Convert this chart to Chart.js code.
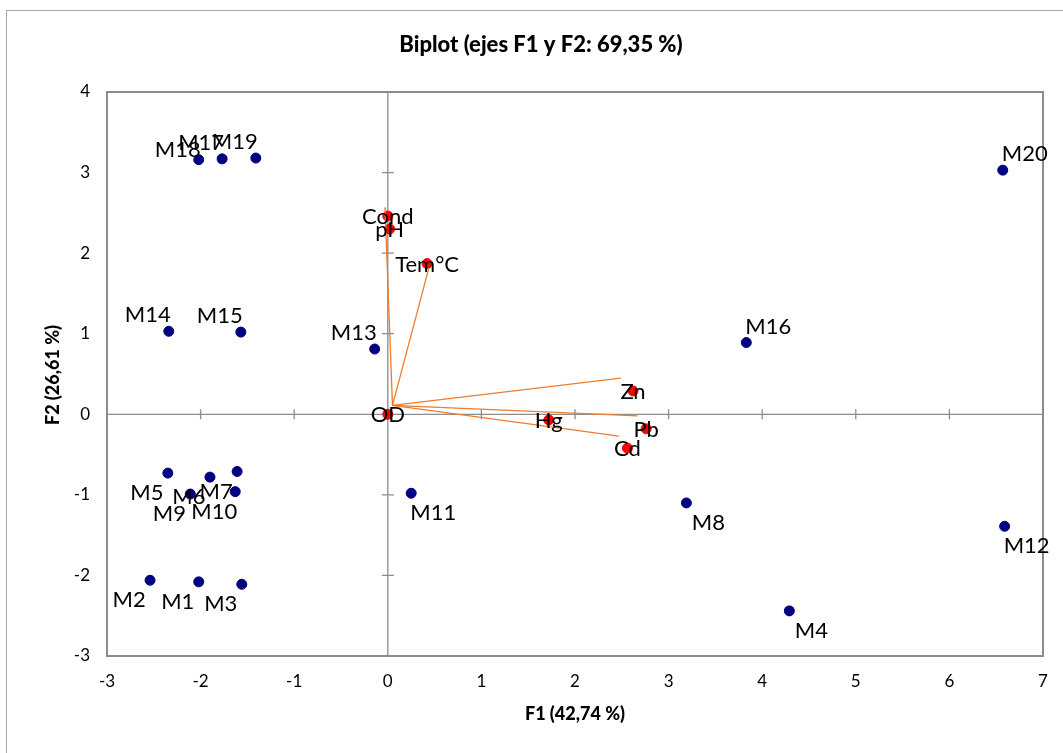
<!DOCTYPE html>
<html>
<head>
<meta charset="utf-8">
<script src="https://cdn.jsdelivr.net/npm/chart.js@4/dist/chart.umd.min.js"></script>
<style>
  html, body { margin: 0; padding: 0; background: #fff; }
  #wrap { width: 1063px; height: 753px; }
</style>
</head>
<body>
<div id="wrap"><canvas id="grafico" width="1063" height="753"></canvas></div>
<script>
// Observaciones (coordenadas F1 / F2)
const obsLabels = ["M1","M2","M3","M4","M5","M6","M7","M8","M9","M10",
                   "M11","M12","M13","M14","M15","M16","M17","M18","M19","M20"];
const obsF1 = [-2.02,-2.54,-1.56, 4.29,-2.35,-1.90,-1.61, 3.19,-2.11,-1.63,
                0.25, 6.59,-0.14,-2.34,-1.57, 3.83,-1.77,-2.02,-1.41, 6.57];
const obsF2 = [-2.08,-2.06,-2.11,-2.44,-0.73,-0.78,-0.71,-1.10,-0.99,-0.96,
               -0.98,-1.39, 0.81, 1.03, 1.02, 0.89, 3.17, 3.16, 3.18, 3.03];

// Variables
const varLabels = ["Cond","pH","Tem°C","OD","Zn","Hg","Pb","Cd"];
const varF1 = [0.00, 0.02, 0.42, 0.00, 2.62, 1.72, 2.76, 2.56];
const varF2 = [2.46, 2.30, 1.87, 0.00, 0.29,-0.07,-0.18,-0.42];

// Vectores (linea desde el origen desplazado)
const vecStart = [0.05, 0.11];
const vecEndF1 = [-0.03, 0.44, 2.49, 2.67, 2.47];
const vecEndF2 = [ 2.57, 1.82, 0.45,-0.02,-0.27];

// Ejes
const xTicks = [-3,-2,-1,0,1,2,3,4,5,6,7];
const yTicks = [-3,-2,-1,0,1,2,3,4];
const titulo = "Biplot (ejes F1 y F2: 69,35 %)";
const tituloX = "F1 (42,74 %)";
const tituloY = "F2 (26,61 %)";

const FUENTE = "Lato, 'Open Sans', sans-serif";
const GRIS = "#8c8c8c";

const datasets = [];
vecEndF1.forEach((x, i) => {
    datasets.push({
        type: "scatter",
        data: [{ x: vecStart[0], y: vecStart[1] }, { x: x, y: vecEndF2[i] }],
        showLine: true,
        borderColor: "#f07c2c",
        borderWidth: 1.3,
        pointRadius: 0,
        _tipo: "vector"
    });
});
datasets.push({
    data: varF1.map((x, i) => ({ x: x, y: varF2[i] })),
    backgroundColor: "#ff0000",
    borderColor: "#ff0000",
    pointRadius: 5,
    _tipo: "var",
    _labels: varLabels
});
datasets.push({
    data: obsF1.map((x, i) => ({ x: x, y: obsF2[i] })),
    backgroundColor: "#000080",
    borderColor: "#000080",
    pointRadius: 5,
    _tipo: "obs",
    _labels: obsLabels
});

// Marco, ejes en cero, ticks y titulos
const decoracion = {
    id: "decoracion",
    beforeDatasetsDraw(chart) {
        const { ctx, chartArea: a, scales: { x, y } } = chart;
        ctx.save();
        // marco exterior
        ctx.strokeStyle = "#a6a6a6";
        ctx.lineWidth = 1;
        ctx.strokeRect(6.5, 10.5, 1080, 800);
        // marco del grafico
        ctx.strokeStyle = GRIS;
        ctx.lineWidth = 2;
        ctx.strokeRect(a.left, a.top, a.right - a.left, a.bottom - a.top);

        // ejes en cero
        const x0 = x.getPixelForValue(0);
        const y0 = y.getPixelForValue(0);
        ctx.lineWidth = 1.3;
        ctx.beginPath();
        ctx.moveTo(a.left, y0); ctx.lineTo(a.right, y0);
        ctx.moveTo(x0, a.top); ctx.lineTo(x0, a.bottom);
        xTicks.forEach(t => {
            const px = x.getPixelForValue(t);
            ctx.moveTo(px, y0 - 5); ctx.lineTo(px, y0 + 5);
        });
        yTicks.forEach(t => {
            const py = y.getPixelForValue(t);
            ctx.moveTo(x0 - 6, py); ctx.lineTo(x0 + 6, py);
        });
        ctx.stroke();

        // etiquetas de ticks
        ctx.fillStyle = "#000";
        ctx.font = "17px " + FUENTE;
        ctx.textBaseline = "middle";
        ctx.textAlign = "right";
        yTicks.forEach(t => ctx.fillText(String(t), a.left - 17, y.getPixelForValue(t)));
        ctx.textAlign = "center";
        xTicks.forEach(t => ctx.fillText(String(t), x.getPixelForValue(t), a.bottom + 26));

        // titulos
        ctx.font = "900 22px " + FUENTE;
        ctx.fillText(titulo, 541, 45);
        ctx.font = "900 18px " + FUENTE;
        ctx.fillText(tituloX, 575, 714);
        ctx.translate(53, 375);
        ctx.rotate(-Math.PI / 2);
        ctx.fillText(tituloY, 0, 0);
        ctx.restore();
    },
    afterDatasetsDraw(chart) {
        const { ctx } = chart;
        ctx.save();
        ctx.fillStyle = "#000";
        ctx.font = "22px " + FUENTE;
        ctx.textAlign = "center";
        ctx.textBaseline = "middle";
        chart.data.datasets.forEach((ds, di) => {
            if (!ds._labels) return;
            const meta = chart.getDatasetMeta(di);
            meta.data.forEach((p, i) => {
                let dx = 0, dy = 1;
                if (ds._tipo === "obs") {
                    dx = ds.data[i].x < 0 ? -21 : 22;
                    dy = ds.data[i].y < 0 ? 20 : -16;
                    // M18 queda algo mas abajo en el original
                    if (ds._labels[i] === "M18") dy = -10;
                }
                ctx.fillText(ds._labels[i], p.x + dx, p.y + dy);
            });
        });
        ctx.restore();
    }
};

const ctx = document.getElementById("grafico").getContext("2d");
new Chart(ctx, {
    type: "scatter",
    data: { datasets },
    options: {
        responsive: false,
        animation: false,
        events: [],
        layout: { padding: { left: 107, top: 92, right: 20, bottom: 97 } },
        plugins: { legend: { display: false }, tooltip: { enabled: false }, title: { display: false } },
        scales: {
            x: { type: "linear", min: -3, max: 7, display: false },
            y: { type: "linear", min: -3, max: 4, display: false }
        }
    },
    plugins: [decoracion]
});
</script>
</body>
</html>
